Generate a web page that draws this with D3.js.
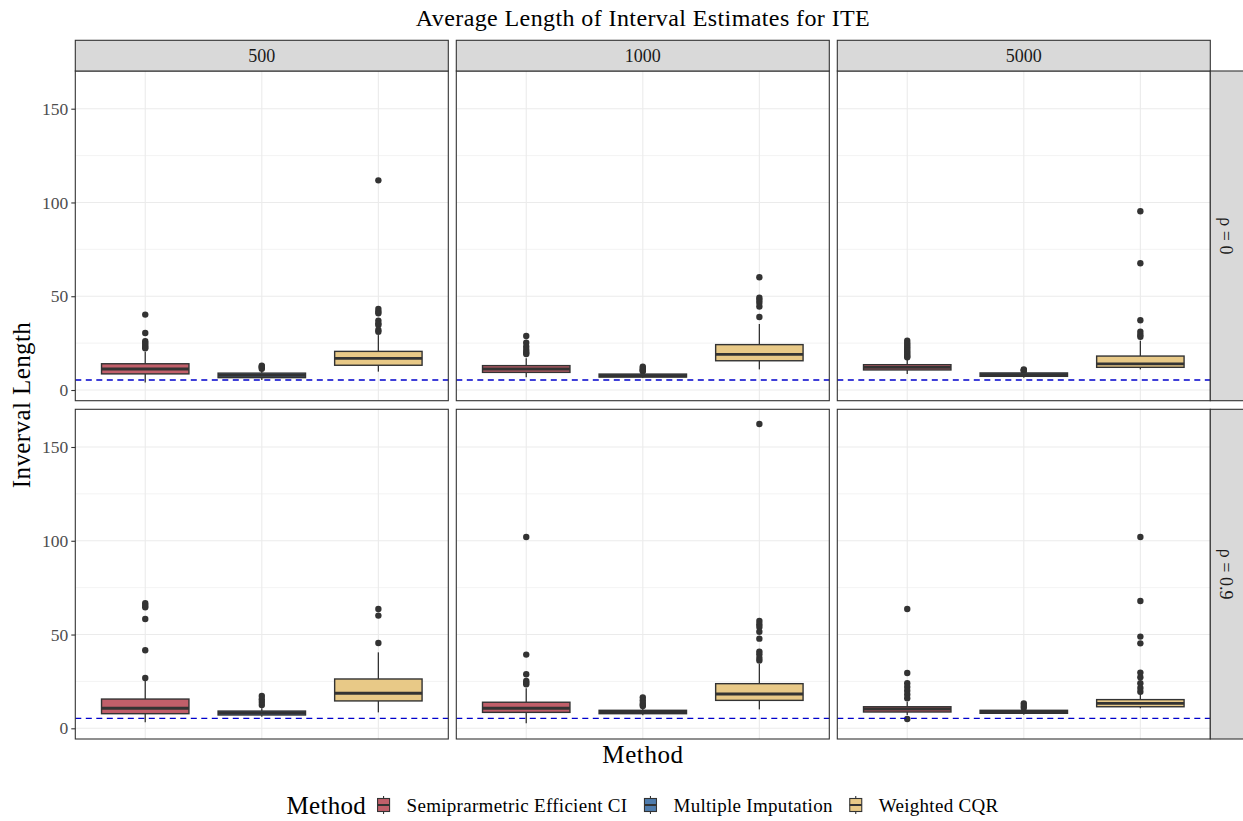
<!DOCTYPE html>
<html>
<head>
<meta charset="utf-8">
<script src="https://cdn.jsdelivr.net/npm/d3@7"></script>
<style>
  body { margin: 0; background: #fff; }
  svg text { font-family: "Liberation Serif", "Times New Roman", serif; }
</style>
</head>
<body>
<svg id="chart" width="1243" height="821"></svg>
<script>
// ---- data ----
const sampleSizes = ["500", "1000", "5000"];
const rhoLabels = ["ρ = 0", "ρ = 0.9"];
const methods = ["Semiprarmetric Efficient CI", "Multiple Imputation", "Weighted CQR"];
const yTicks = [0, 50, 100, 150];
const refLength = 5.3;

// panels in row order: rho=0 (500,1000,5000), rho=0.9 (500,1000,5000)
// each inner array: [Semiparametric CI, Multiple Imputation, Weighted CQR]
const lowerWhisker = [[4.0, 5.3, 9.8], [6.8, 6.5, 11.0], [8.5, 6.5, 11.0], [3.2, 6.2, 8.5], [2.7, 6.9, 10.1], [7.1, 7.2, 10.7]];
const q1 = [[8.6, 6.6, 13.2], [9.4, 6.9, 15.6], [10.7, 7.3, 12.1], [7.8, 7.1, 14.6], [8.5, 7.8, 14.9], [8.7, 8.0, 11.5]];
const median = [[11.2, 7.8, 16.9], [11.2, 7.6, 19.0], [12.1, 8.2, 13.9], [10.7, 8.2, 18.7], [10.7, 8.7, 18.3], [10.3, 8.8, 13.3]];
const q3 = [[14.0, 9.0, 20.6], [13.0, 8.5, 24.2], [13.5, 9.1, 18.1], [15.6, 9.2, 26.3], [13.9, 9.6, 23.8], [11.5, 9.6, 15.3]];
const upperWhisker = [[20.4, 10.5, 29.3], [16.9, 9.4, 35.2], [16.9, 9.8, 26.3], [25.8, 10.7, 40.5], [21.3, 11.0, 34.3], [14.2, 10.3, 18.3]];
const outliers = [
  [[40.2, 30.4, 26.0, 25.0, 24.0, 23.0, 22.3], [11.3, 12.0, 12.6, 13.0], [111.8, 43.2, 41.8, 40.9, 37.0, 35.5, 34.7, 32.0, 31.1]],
  [[28.8, 25.2, 23.1, 21.3, 20.0, 19.2], [10.0, 10.5, 11.0, 11.7, 12.4], [60.1, 49.2, 48.0, 46.5, 44.5, 38.9]],
  [[26.3, 25.0, 24.0, 23.0, 22.0, 21.0, 20.0, 19.0, 18.0, 17.5], [10.3, 10.6, 11.0], [95.3, 67.6, 37.2, 31.1, 29.5, 28.4]],
  [[66.7, 65.5, 64.5, 58.3, 41.6, 26.8], [12.4, 14.0, 15.5, 17.2], [63.6, 60.1, 45.5]],
  [[102.0, 39.3, 28.8, 25.2, 24.3, 23.5], [11.9, 12.5, 13.5, 15.0, 16.5], [162.3, 57.2, 55.5, 54.0, 51.5, 47.8, 40.9, 39.5, 37.5, 36.1]],
  [[63.6, 29.5, 24.0, 22.0, 20.0, 18.0, 16.0, 5.0], [10.9, 12.0, 13.3], [102.0, 67.9, 48.9, 45.3, 29.7, 27.2, 24.0, 21.5, 19.5]]
];

const fillColors = ["#c15f6a", "#4f7cad", "#e8c987"];

// ---- layout ----
const svg = d3.select("#chart");
const panelLeft = 75.3, panelW = 373, panelGapX = 8;
const panelTop = 71, panelH = 329.7, panelGapY = 8.6;
const stripH = 30.7, stripW = 34;
const dark = "#333333", grid = "#ebebeb";

const color = d3.scaleOrdinal().domain(methods).range(fillColors);
const x = d3.scalePoint().domain(methods).range([0, panelW]).padding(0.6);
const boxW = x.step() * 0.75;
const y = d3.scaleLinear().domain([-5.7, 170.1]).range([panelH, 0]);

svg.append("text")
  .attr("x", 643).attr("y", 26)
  .attr("text-anchor", "middle")
  .style("font-size", "24px").style("letter-spacing", "0.4px").style("fill", "#000")
  .text("Average Length of Interval Estimates for ITE");

rhoLabels.forEach((rho, r) => {
  sampleSizes.forEach((n, c) => {
    const p = r * 3 + c;
    const g = svg.append("g")
      .attr("transform", `translate(${panelLeft + c * (panelW + panelGapX)},${panelTop + r * (panelH + panelGapY)})`);

    g.append("rect").attr("width", panelW).attr("height", panelH).attr("fill", "#fff");

    // minor grid
    g.selectAll(".minor").data([25, 75, 125]).enter().append("line")
      .attr("x1", 0).attr("x2", panelW)
      .attr("y1", d => y(d)).attr("y2", d => y(d))
      .attr("stroke", grid).attr("stroke-width", 0.6);
    // major grid
    g.selectAll(".major").data(yTicks).enter().append("line")
      .attr("x1", 0).attr("x2", panelW)
      .attr("y1", d => y(d)).attr("y2", d => y(d))
      .attr("stroke", grid).attr("stroke-width", 1.1);
    g.selectAll(".vgrid").data(methods).enter().append("line")
      .attr("x1", d => x(d)).attr("x2", d => x(d))
      .attr("y1", 0).attr("y2", panelH)
      .attr("stroke", grid).attr("stroke-width", 1.1);

    // boxplots
    methods.forEach((m, k) => {
      const cx = x(m);
      const bg = g.append("g");
      bg.selectAll("circle").data(outliers[p][k]).enter().append("circle")
        .attr("cx", cx).attr("cy", d => y(d)).attr("r", 3.2)
        .attr("fill", dark);
      bg.append("line")
        .attr("x1", cx).attr("x2", cx)
        .attr("y1", y(q3[p][k])).attr("y2", y(upperWhisker[p][k]))
        .attr("stroke", dark).attr("stroke-width", 1.3);
      bg.append("line")
        .attr("x1", cx).attr("x2", cx)
        .attr("y1", y(q1[p][k])).attr("y2", y(lowerWhisker[p][k]))
        .attr("stroke", dark).attr("stroke-width", 1.3);
      bg.append("rect")
        .attr("x", cx - boxW / 2).attr("width", boxW)
        .attr("y", y(q3[p][k])).attr("height", y(q1[p][k]) - y(q3[p][k]))
        .attr("fill", color(m)).attr("stroke", dark).attr("stroke-width", 1.4);
      bg.append("line")
        .attr("x1", cx - boxW / 2).attr("x2", cx + boxW / 2)
        .attr("y1", y(median[p][k])).attr("y2", y(median[p][k]))
        .attr("stroke", dark).attr("stroke-width", 2.8);
    });

    // reference line
    g.append("line")
      .attr("x1", 0).attr("x2", panelW)
      .attr("y1", y(refLength)).attr("y2", y(refLength))
      .attr("stroke", "#0000cc").attr("stroke-width", 1.4)
      .attr("stroke-dasharray", "6,4.5");

    g.append("rect").attr("width", panelW).attr("height", panelH)
      .attr("fill", "none").attr("stroke", dark).attr("stroke-width", 1.1);

    // y axis on first column
    if (c === 0) {
      const ax = g.append("g").call(d3.axisLeft(y).tickValues(yTicks).tickSize(4).tickPadding(3));
      ax.select(".domain").remove();
      ax.selectAll(".tick line").attr("stroke", dark).attr("stroke-width", 1.1);
      ax.selectAll(".tick text")
        .style("font-family", '"Liberation Serif", serif')
        .style("font-size", "17.5px").attr("fill", "#4d4d4d");
    }

    // top strips
    if (r === 0) {
      g.append("rect").attr("y", -stripH).attr("width", panelW).attr("height", stripH)
        .attr("fill", "#d9d9d9").attr("stroke", dark).attr("stroke-width", 1.1);
      g.append("text")
        .attr("x", panelW / 2).attr("y", -stripH / 2)
        .attr("dy", "0.35em").attr("text-anchor", "middle")
        .style("font-size", "18px").attr("fill", "#1a1a1a")
        .text(n);
    }
    // right strips
    if (c === 2) {
      g.append("rect").attr("x", panelW).attr("width", stripW).attr("height", panelH)
        .attr("fill", "#d9d9d9").attr("stroke", dark).attr("stroke-width", 1.1);
      g.append("text")
        .attr("transform", `translate(${panelW + 16.5},${panelH / 2}) rotate(90)`)
        .attr("dy", "0.35em").attr("text-anchor", "middle")
        .style("font-size", "18px").attr("fill", "#1a1a1a")
        .text(rho);
    }
  });
});

// axis titles
svg.append("text")
  .attr("x", 643).attr("y", 763)
  .attr("text-anchor", "middle")
  .style("font-size", "25px").style("letter-spacing", "0.6px")
  .text("Method");
svg.append("text")
  .attr("transform", `translate(30,405) rotate(-90)`)
  .attr("text-anchor", "middle")
  .style("font-size", "25px").style("letter-spacing", "0.4px")
  .text("Inverval Length");

// legend
const legY = 805;
const leg = svg.append("g");
const legTitle = leg.append("text")
  .attr("y", legY).attr("dy", "0.35em")
  .style("font-size", "25px").style("letter-spacing", "0.3px").text("Method");
let cursor = legTitle.node().getComputedTextLength() + 17.5;
methods.forEach(m => {
  const kg = leg.append("g").attr("transform", `translate(${cursor},${legY})`);
  kg.append("line").attr("y1", -9).attr("y2", 9).attr("stroke", dark).attr("stroke-width", 1.1);
  kg.append("rect").attr("x", -6).attr("y", -6.5).attr("width", 12).attr("height", 13)
    .attr("fill", color(m)).attr("stroke", dark).attr("stroke-width", 1.1);
  kg.append("line").attr("x1", -6).attr("x2", 6).attr("stroke", dark).attr("stroke-width", 2);
  const t = leg.append("text")
    .attr("x", cursor + 23).attr("y", legY).attr("dy", "0.35em")
    .style("font-size", "19px").style("letter-spacing", "0.3px").text(m);
  cursor += 23 + t.node().getComputedTextLength() + 23;
});
const legWidth = cursor - 23;
leg.attr("transform", `translate(${642.5 - legWidth / 2},0)`);
</script>
</body>
</html>
